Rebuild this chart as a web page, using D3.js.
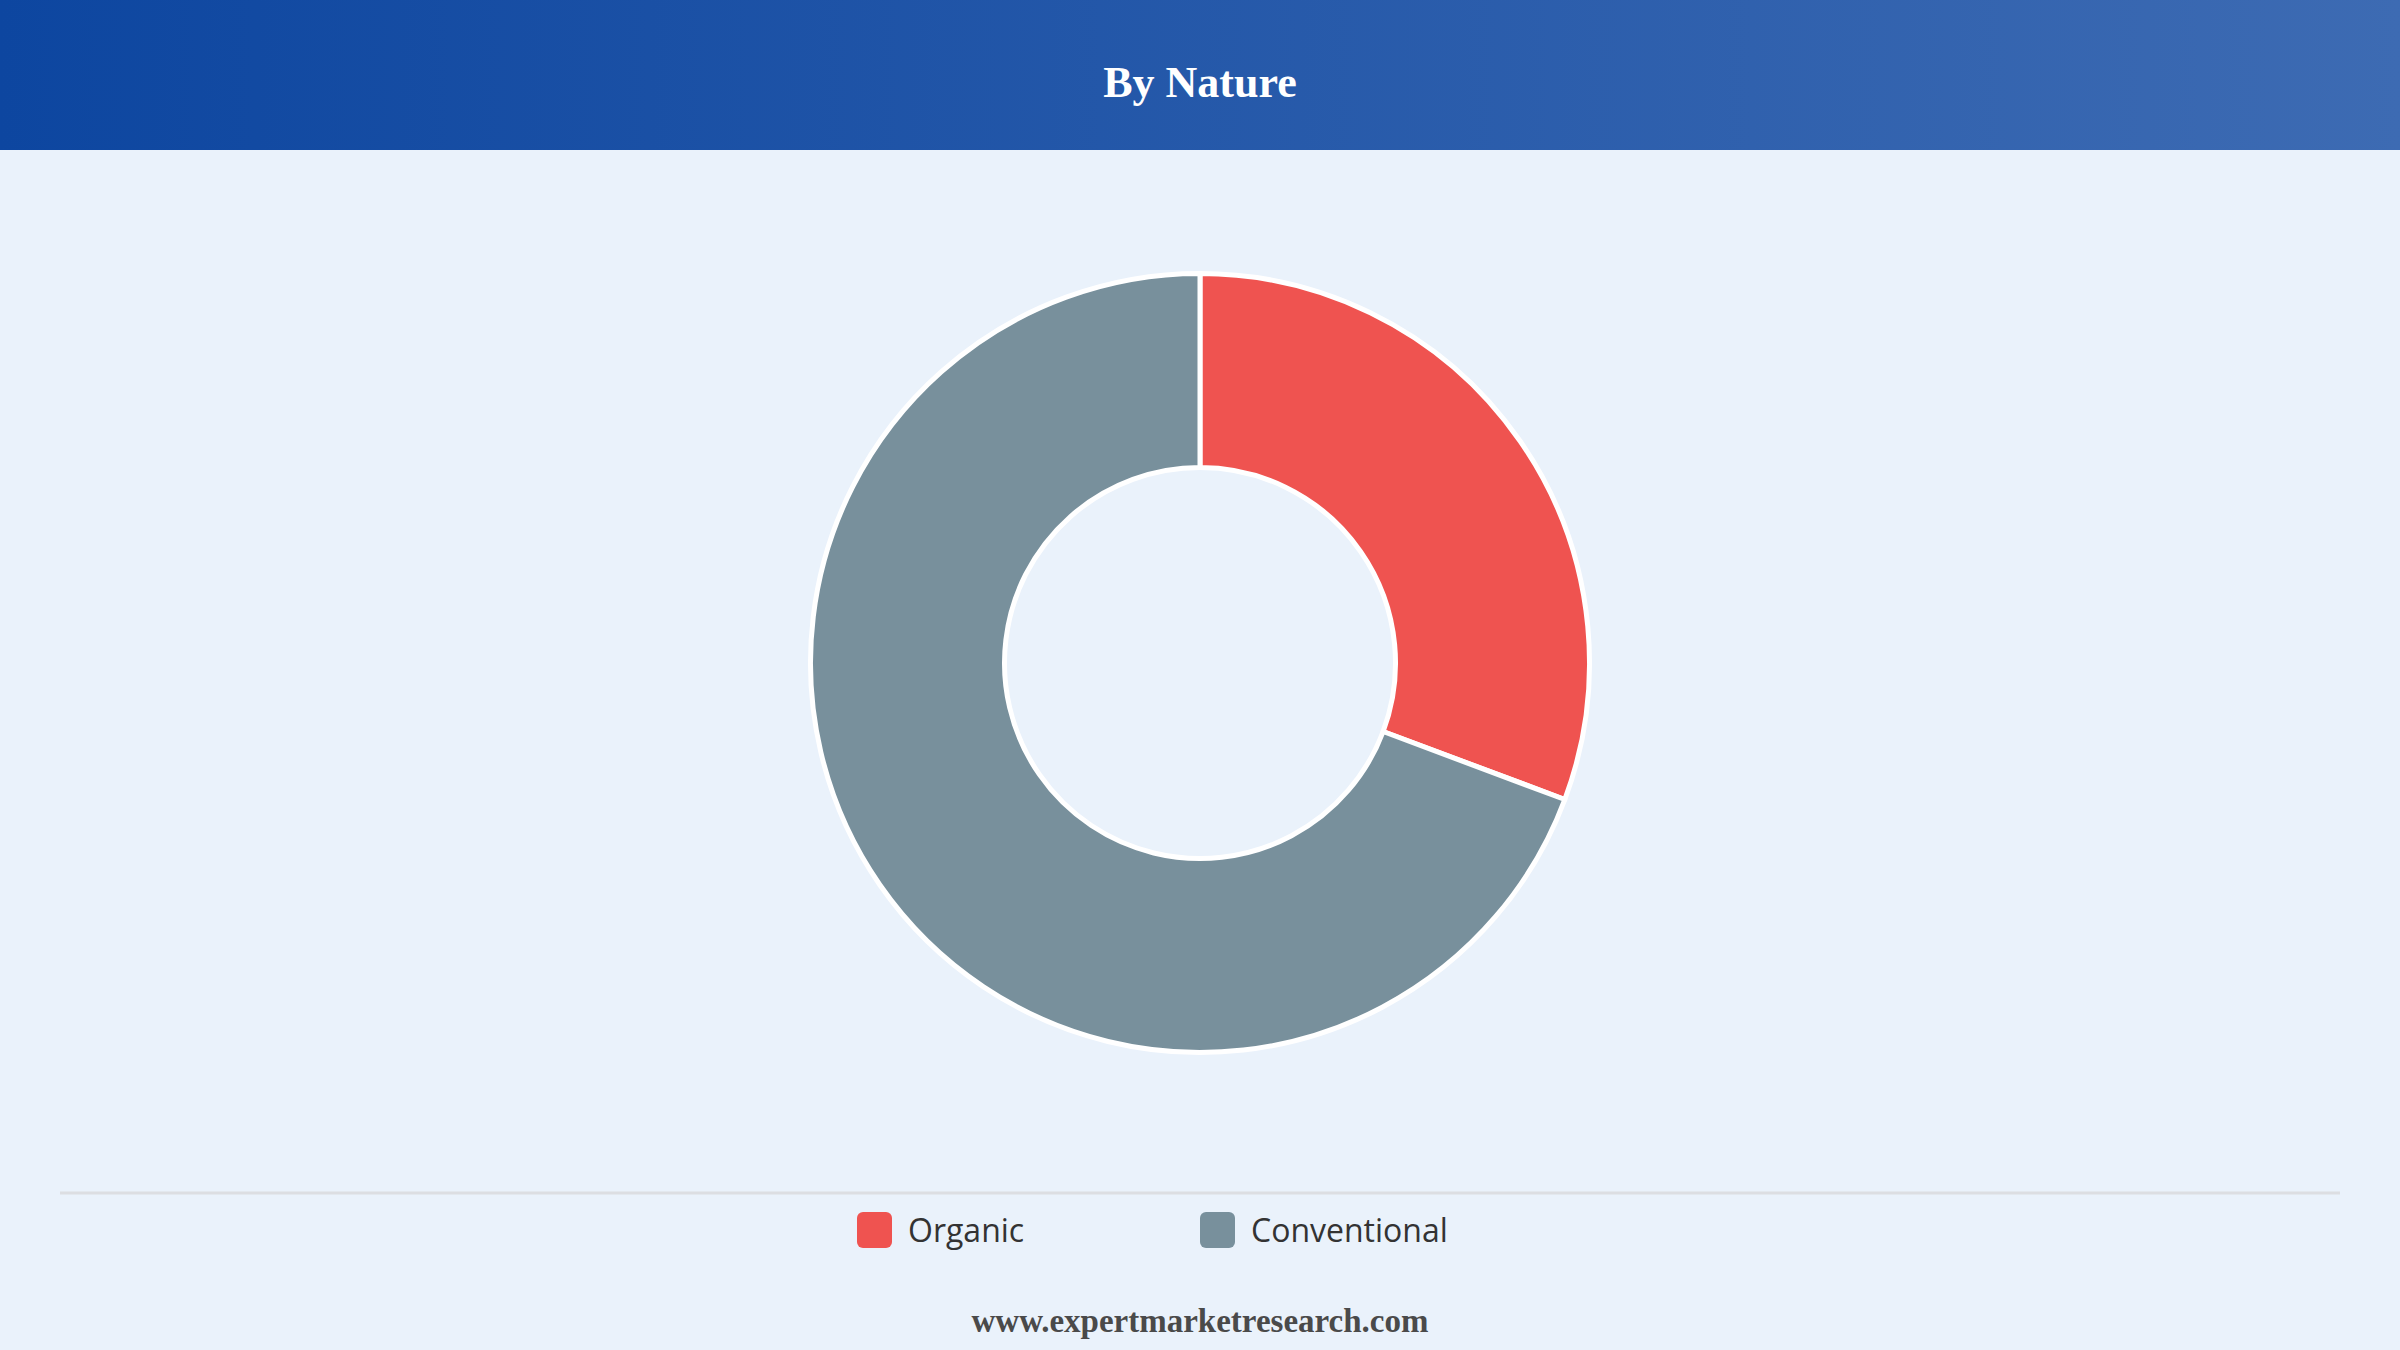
<!DOCTYPE html>
<html>
<head>
<meta charset="utf-8">
<script src="https://cdn.jsdelivr.net/npm/d3@7"></script>
<style>
  html, body { margin: 0; padding: 0; background: #eaf2fb; }
  svg { display: block; }
</style>
</head>
<body>
<svg id="chart"></svg>
<script>
// data
var categories = ["Organic", "Conventional"];
var shares = [30.7, 69.3];
var colours = ["#ef5350", "#78909c"];
var title = "By Nature";
var source = "www.expertmarketresearch.com";

var svgWidth = 2400, svgHeight = 1350;
var headerHeight = 150;

var svg = d3.select("#chart")
    .attr("width", svgWidth)
    .attr("height", svgHeight);

svg.append("rect")
    .attr("width", svgWidth)
    .attr("height", svgHeight)
    .attr("fill", "#eaf2fb");

// header band with gradient
var grad = svg.append("defs").append("linearGradient")
    .attr("id", "hdr")
    .attr("x1", "0%").attr("x2", "100%")
    .attr("y1", "0%").attr("y2", "0%");
grad.append("stop").attr("offset", "0%").attr("stop-color", "#0d46a0");
grad.append("stop").attr("offset", "100%").attr("stop-color", "#3d6bb3");

svg.append("rect")
    .attr("width", svgWidth)
    .attr("height", headerHeight)
    .attr("fill", "url(#hdr)");

svg.append("text")
    .attr("x", svgWidth / 2)
    .attr("y", 97)
    .attr("text-anchor", "middle")
    .attr("fill", "#fff")
    .style("font-family", "'Liberation Serif', 'Times New Roman', serif")
    .style("font-weight", "bold")
    .style("font-size", "44px")
    .text(title);

// donut
var data = categories.map(function(c, i) { return { name: c, value: shares[i] }; });

var colour = d3.scaleOrdinal().domain(categories).range(colours);

var pie = d3.pie()
    .sort(null)
    .value(function(d) { return d.value; });

var arc = d3.arc()
    .innerRadius(195.5)
    .outerRadius(389.5);

var g = svg.append("g")
    .attr("transform", "translate(" + 1200 + "," + 663 + ")");

g.selectAll("path")
    .data(pie(data))
    .enter().append("path")
    .attr("d", arc)
    .attr("fill", function(d) { return colour(d.data.name); })
    .attr("stroke", "#fff")
    .attr("stroke-width", 5)
    .attr("stroke-linejoin", "round");

// divider
svg.append("line")
    .attr("x1", 60).attr("x2", 2340)
    .attr("y1", 1193).attr("y2", 1193)
    .attr("stroke", "#dcdee2")
    .attr("stroke-width", 3);

// legend
var legend = svg.selectAll(".legend")
    .data(categories)
    .enter().append("g")
    .attr("class", "legend")
    .attr("transform", function(d, i) { return "translate(" + (857 + i * 343) + ",1212)"; });

legend.append("rect")
    .attr("width", 35)
    .attr("height", 36)
    .attr("rx", 6)
    .attr("fill", function(d) { return colour(d); });

legend.append("text")
    .attr("x", 51)
    .attr("y", 30)
    .attr("fill", "#333")
    .style("font-family", "'Open Sans', 'Noto Sans', sans-serif")
    .style("font-weight", 500)
    .style("font-size", "32px")
    .text(function(d) { return d; });

// source
svg.append("text")
    .attr("x", svgWidth / 2)
    .attr("y", 1332)
    .attr("text-anchor", "middle")
    .attr("fill", "#4a4a4a")
    .style("font-family", "'Liberation Serif', 'Times New Roman', serif")
    .style("font-weight", "bold")
    .style("font-size", "33px")
    .text(source);
</script>
</body>
</html>
